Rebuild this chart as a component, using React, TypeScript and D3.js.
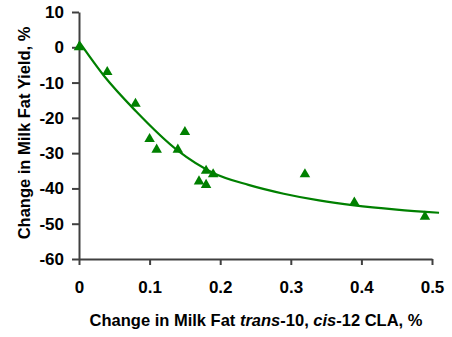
import { useEffect, useRef } from 'react';
import * as d3 from 'd3';

const W = 452;
const H = 337;
const MARGIN = { top: 12, right: 20, bottom: 78, left: 79 };
const GREEN = '#008000';
const AXIS = '#404040';
const FONT = '"Liberation Sans", Arial, sans-serif';

// measured points
const claX = [0, 0.04, 0.08, 0.1, 0.11, 0.14, 0.15, 0.17, 0.18, 0.18, 0.19, 0.32, 0.39, 0.49];
const yieldY = [0, -7, -16, -26, -29, -29, -24, -38, -35, -39, -36, -36, -44, -48];

// fitted trend line
const fitX = [0, 0.035, 0.08, 0.14, 0.19, 0.24, 0.29, 0.34, 0.39, 0.45, 0.51];
const fitY = [1.6, -8, -18, -29.3, -35.6, -39, -41.5, -43.4, -44.8, -46, -46.9];

const xTicks = [0, 0.1, 0.2, 0.3, 0.4, 0.5];
const yTicks = [10, 0, -10, -20, -30, -40, -50, -60];

export default function App() {
  const svgRef = useRef<SVGSVGElement>(null);

  useEffect(() => {
    const svg = d3.select(svgRef.current);
    svg.selectAll('*').remove();

    const innerH = H - MARGIN.top - MARGIN.bottom;

    const x = d3.scaleLinear().domain([0, 0.5]).range([0, 353]);
    const y = d3.scaleLinear().domain([-60, 10]).range([innerH, 0]);

    const g = svg.append('g').attr('transform', `translate(${MARGIN.left},${MARGIN.top})`);

    const xAxisG = g.append('g')
      .attr('transform', `translate(0,${innerH})`)
      .call(d3.axisBottom(x).tickValues(xTicks).tickFormat(d => `${d}`).tickSize(6).tickSizeOuter(0).tickPadding(16));
    xAxisG.select('.domain').attr('stroke', AXIS).attr('stroke-width', 2);
    xAxisG.selectAll('line').attr('stroke', AXIS).attr('stroke-width', 2);
    xAxisG.selectAll('text')
      .attr('fill', '#000').attr('font-family', FONT).attr('font-weight', 'bold').attr('font-size', '17px');

    const yAxisG = g.append('g')
      .call(d3.axisLeft(y).tickValues(yTicks).tickFormat(d => `${d}`).tickSize(7).tickSizeOuter(0).tickPadding(8));
    yAxisG.select('.domain').attr('stroke', AXIS).attr('stroke-width', 2);
    yAxisG.selectAll('line').attr('stroke', AXIS).attr('stroke-width', 2);
    yAxisG.selectAll('text')
      .attr('fill', '#000').attr('font-family', FONT).attr('font-weight', 'bold').attr('font-size', '17px');

    const fit = fitX.map((v, i) => [v, fitY[i]] as [number, number]);
    g.append('path')
      .datum(fit)
      .attr('fill', 'none')
      .attr('stroke', GREEN)
      .attr('stroke-width', 2.2)
      .attr('d', d3.line<[number, number]>()
        .x(d => x(d[0]))
        .y(d => y(d[1]))
        .curve(d3.curveMonotoneX));

    const tri = d3.symbol().type(d3.symbolTriangle).size(48);
    g.selectAll('.pt')
      .data(claX.map((v, i) => [v, yieldY[i]]))
      .join('path')
      .attr('transform', d => `translate(${x(d[0])},${y(d[1])})`)
      .attr('d', tri)
      .attr('fill', GREEN);

    // axis titles
    const xt = svg.append('text')
      .attr('x', 256).attr('y', 326)
      .attr('text-anchor', 'middle')
      .attr('font-family', FONT).attr('font-weight', 'bold').attr('font-size', '16.5px')
      .attr('fill', '#000');
    xt.append('tspan').text('Change in Milk Fat ');
    xt.append('tspan').attr('font-style', 'italic').text('trans');
    xt.append('tspan').text('-10, ');
    xt.append('tspan').attr('font-style', 'italic').text('cis');
    xt.append('tspan').text('-12 CLA, %');

    svg.append('text')
      .attr('transform', `translate(30,133) rotate(-90)`)
      .attr('text-anchor', 'middle')
      .attr('font-family', FONT).attr('font-weight', 'bold').attr('font-size', '16.5px')
      .attr('fill', '#000')
      .text('Change in Milk Fat Yield, %');
  }, []);

  return (
    <div style={{ position: 'absolute', left: 0, top: 0, width: W, height: H, background: '#fff' }}>
      <svg ref={svgRef} width={W} height={H} />
    </div>
  );
}
